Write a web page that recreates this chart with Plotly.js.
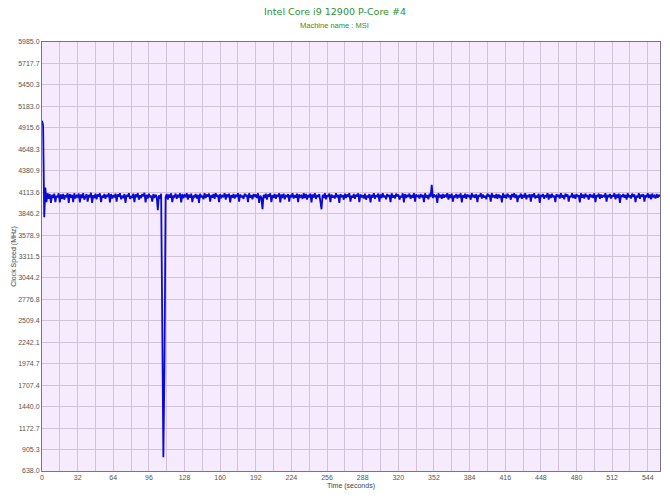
<!DOCTYPE html>
<html>
<head>
<meta charset="utf-8">
<script src="https://cdn.plot.ly/plotly-3.0.1.min.js"></script>
<style>html,body{margin:0;padding:0;background:#fff;}#chart{width:670px;height:502px;}</style>
</head>
<body>
<div id="chart"></div>
<script>
// Clock speed (MHz), one sample per second starting at t = 0 s
const clockMHz = [
5005,4950,3800,4170,3990,4100,4030,4090,3980,4080,4040,4095,3990,4070,4050,4100,3985,4085,4030,4090,
4020,4075,4060,4100,3980,4090,4045,4080,3990,4100,4035,4070,4055,4095,3985,4085,4040,4100,4020,4065,
4090,3995,4080,4050,4105,3980,4075,4040,4095,4025,4085,4060,4100,3990,4070,4045,4090,4030,4080,4055,
4100,3985,4090,4035,4075,4050,4095,3995,4085,4060,4100,4025,4070,4040,4090,3980,4080,4055,4100,4030,
4065,4045,4095,3990,4085,4050,4100,4020,4075,4040,4090,4060,4105,3985,4080,4035,4095,4050,4070,3995,
4090,4040,4080,4060,3890,4075,4030,4095,2860,810,1930,4050,4090,4020,4085,4045,4100,3990,4070,4055,
4095,4030,4080,4050,4100,3985,4090,4040,4075,4060,4100,4020,4085,4045,4095,3990,4070,4055,4090,4035,
4080,3980,4095,4050,4070,4025,4100,4040,4085,4060,4095,3995,4075,4045,4090,4030,4100,4055,4080,3990,
4090,4040,4070,4060,4100,4020,4085,4050,4095,3985,4075,4045,4090,4035,4080,4055,4100,3995,4085,4050,
4070,4030,4095,4060,4080,3990,4100,4045,4075,4025,4090,4055,4085,4040,4100,3980,4070,4050,3900,4080,
4040,4095,4020,4085,4060,4100,3990,4075,4045,4090,4030,4080,4055,4100,3985,4085,4040,4095,4025,4070,
4060,4090,3995,4080,4050,4100,4035,4075,4045,4095,3990,4085,4055,4070,4030,4100,4040,4090,4020,4080,
4050,4095,3985,4085,4045,4100,4030,4070,4060,4090,3995,3900,4080,4040,4100,4025,4075,4055,4095,3990,
4085,4045,4070,4035,4100,4050,4080,3980,4090,4060,4075,4020,4095,4040,4085,4055,4100,3995,4070,4045,
4090,4030,4080,4060,4100,3990,4085,4050,4075,4035,4095,4020,4070,4055,4090,3985,4080,4045,4100,4030,
4075,4060,4095,3995,4085,4040,4100,4050,4070,4025,4090,4055,4080,3990,4100,4045,4075,4035,4095,4060,
4085,4020,4070,4050,4100,3985,4090,4040,4080,4055,4095,4030,4075,4045,4100,3995,4085,4060,4070,4035,
4090,4050,4080,3990,4100,4045,4075,4025,4095,4055,4205,4040,4085,4060,4070,3980,4100,4050,4080,4030,
4090,4045,4075,4060,4100,4020,4085,4040,4095,3995,4070,4055,4090,4035,4080,4050,4100,3985,4075,4045,
4095,4030,4085,4060,4070,4020,4100,4050,4080,4040,4090,3990,4075,4055,4100,4035,4085,4045,4070,4025,
4095,4060,4080,3995,4100,4050,4075,4040,4090,4030,4085,4055,4070,3985,4100,4045,4080,4035,4095,4060,
4075,4020,4090,4050,4100,4040,4085,3990,4070,4055,4095,4030,4080,4045,4100,4025,4075,4060,4090,3995,
4085,4050,4100,4035,4070,4045,4095,3980,4080,4055,4090,4030,4075,4060,4100,4020,4085,4040,4095,4050,
4070,3990,4090,4055,4080,4035,4100,4045,4075,4025,4095,4060,4085,3995,4070,4050,4100,4040,4080,4030,
4090,4055,4075,3985,4100,4045,4085,4035,4095,4060,4070,4020,4090,4050,4080,4040,4100,3990,4075,4055,
4095,4030,4085,4045,4070,4060,4100,3995,4080,4050,4090,4035,4075,4055,4100,4025,4085,4040,4095,3980,
4070,4060,4090,4045,4080,4020,4100,4050,4075,4035,4095,4055,4085,3990,4070,4045,4100,4030,4080,4060,
4090,3995,4075,4050,4100,4040,4085,4025,4095,4055,4070,4035,4090,4045,4080,4060
];
const yTickValues = [638.0, 905.3, 1172.7, 1440.0, 1707.4, 1974.7, 2242.1, 2509.4, 2776.8, 3044.2,
  3311.5, 3578.9, 3846.2, 4113.6, 4380.9, 4648.3, 4915.6, 5183.0, 5450.3, 5717.7, 5985.0];
const xTickValues = [0, 32, 64, 96, 128, 160, 192, 224, 256, 288, 320, 352, 384, 416, 448, 480, 512, 544];
const chartTitle = 'Intel Core i9 12900 P-Core #4';
const chartSubtitle = 'Machine name : MSI';

const gridColor = '#d2c3da';
const trace = {
  type: 'scatter', mode: 'lines',
  y: clockMHz, x0: 0, dx: 1,
  line: {color: '#0a0ad2', width: 1.8},
  hoverinfo: 'skip'
};
const layout = {
  width: 670, height: 502,
  margin: {l: 42, r: 10, t: 42, b: 31},
  paper_bgcolor: '#ffffff',
  plot_bgcolor: '#f6ebfc',
  showlegend: false,
  title: {
    text: chartTitle,
    font: {family: 'DejaVu Sans, Verdana', size: 9.5, color: '#2f8f2f'},
    x: 0.5, xanchor: 'center', xref: 'container', y: 0.976, yanchor: 'middle', yref: 'container'
  },
  annotations: [{
    text: chartSubtitle, showarrow: false,
    xref: 'paper', yref: 'paper', x: 0.474, xanchor: 'center', y: 1.0396, yanchor: 'middle',
    font: {family: 'Liberation Sans, Arial', size: 7.5, color: '#2f8f2f'}
  }],
  xaxis: {
    range: [0, 555], tickvals: xTickValues, ticktext: xTickValues.map(String),
    showgrid: true, gridcolor: gridColor, gridwidth: 1,
    minor: {dtick: 16, tick0: 0, showgrid: true, gridcolor: gridColor, gridwidth: 1},
    ticks: '', showline: true, linecolor: '#777777', linewidth: 1, mirror: true,
    zeroline: false,
    tickfont: {family: 'Liberation Sans, Arial', size: 7, color: '#555555'},
    title: {text: 'Time (seconds)', font: {family: 'Liberation Sans, Arial', size: 7, color: '#444444'}, standoff: 2}
  },
  yaxis: {
    range: [638, 5985], tickvals: yTickValues, ticktext: yTickValues.map(v => v.toFixed(1)),
    showgrid: true, gridcolor: gridColor, gridwidth: 1,
    ticks: '', showline: true, linecolor: '#777777', linewidth: 1, mirror: true,
    zeroline: false,
    tickfont: {family: 'Liberation Sans, Arial', size: 7, color: '#555555'},
    title: {text: 'Clock Speed (MHz)', font: {family: 'Liberation Sans, Arial', size: 7, color: '#444444'}, standoff: 0}
  }
};
Plotly.newPlot('chart', [trace], layout, {displayModeBar: false, staticPlot: true});
</script>
</body>
</html>
